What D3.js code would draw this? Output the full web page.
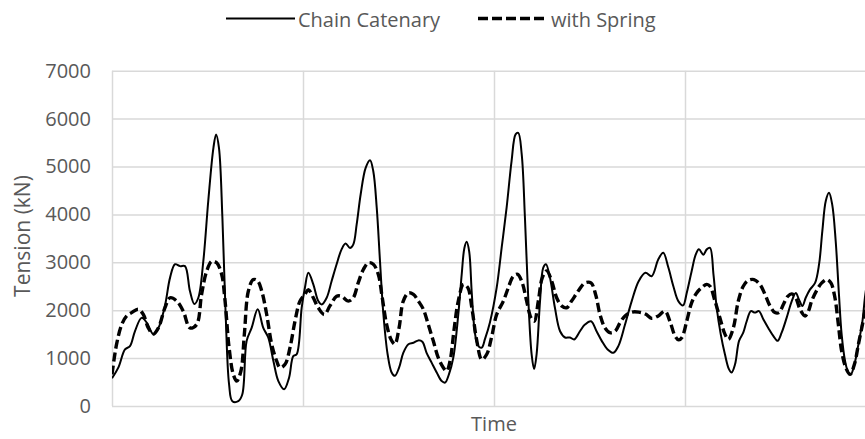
<!DOCTYPE html>
<html><head><meta charset="utf-8">
<script src="https://cdn.jsdelivr.net/npm/d3@7"></script>
<style>
html,body{margin:0;padding:0;background:#fff;}
svg{display:block;}
text{font-family:"Open Sans","Noto Sans",sans-serif;fill:#595959;}
</style></head>
<body><svg id="chart" width="865" height="439"></svg>
<script>
// ---- data ----
const seriesNames = ["Chain Catenary", "with Spring"];
const yTicks = [0, 1000, 2000, 3000, 4000, 5000, 6000, 7000];
const timeGrid = [0, 100, 200, 300, 400];

const catenaryTime = [0,3.3,6.8,9.4,12.0,15.5,18.2,21.6,24.3,27.7,30.4,33.0,35.6,38.2,40.8,43.1,45.2,47.8,50.4,53.1,54.5,56.0,57.8,59.5,61.3,63.0,66.1,68.2,70.5,73.1,76.3,79.2,81.8,84.5,87.1,90.1,92.7,94.9,96.7,99.3,101.0,
102.8,105.4,108.0,109.8,112.4,115.0,117.6,120.2,122.3,124.6,126.3,128.1,130.2,132.8,135.1,136.8,138.6,140.3,142.1,144.3,146.4,148.1,150.3,152.5,155.2,157.8,160.4,162.5,164.7,167.4,170.0,172.6,174.4,176.4,178.7,181.3,183.1,184.5,185.7,187.0,188.4,190.1,191.8,193.6,195.3,197.9,
201.4,204.0,206.6,209.2,211.3,212.7,214.5,216.2,218.0,219.7,221.0,222.3,224.1,225.8,227.2,229.3,231.9,234.6,237.2,239.8,242.0,245.0,247.6,250.8,253.7,256.4,259.5,262.5,265.1,268.6,272.1,275.8,279.3,282.5,286.0,288.6,291.3,293.9,296.5,299.0,
300.9,303.5,305.6,307.3,309.6,311.4,313.1,314.9,316.6,318.7,320.9,323.0,324.4,326.2,328.3,330.5,332.3,334.5,336.6,338.7,341.0,343.6,346.3,348.5,350.6,353.2,355.9,358.0,359.7,361.5,363.2,365.4,368.1,370.2,371.9,373.7,375.4,377.1,378.9,380.6,382.0,383.8,385.5,386.8,388.7,390.8,392.9,394.2,396.5];
const catenary = [580,800,1180,1250,1560,1840,1740,1500,1630,2090,2680,2960,2920,2920,2400,2130,2260,3020,4280,5390,5670,5390,3930,1910,450,100,100,240,1360,1630,2020,1630,1430,940,520,350,590,1040,1080,2050,2470,
2780,2540,2190,2120,2260,2610,2960,3270,3390,3300,3370,3790,4420,4970,5130,4900,4140,3030,1910,1080,700,630,800,1110,1290,1320,1370,1340,1110,900,700,520,490,660,1010,1910,2750,3300,3430,3230,2330,1500,1250,1220,1400,1750,
2470,3300,4140,5110,5670,5700,5260,3930,2190,1080,770,1080,2190,2890,2960,2680,2050,1560,1430,1430,1390,1560,1700,1770,1560,1360,1180,1110,1250,1700,2190,2610,2780,2710,3060,3200,2890,2500,2190,2100,
2360,2820,3160,3270,3160,3270,3300,2750,2050,1500,1080,770,700,870,1360,1530,1770,1980,1950,1980,1810,1630,1460,1360,1530,1840,2190,2360,2220,2090,2260,2430,2570,2960,3650,4280,4450,4200,3440,2330,1500,940,700,660,870,1290,1770,2260,2900];

const springTime = [0,2.4,5.1,7.7,10.3,13.8,16.4,19.0,21.6,24.3,27.7,30.4,33.9,37.3,40.8,44.3,46.9,49.6,52.2,54.8,57.4,59.2,61.3,63.5,65.3,67.5,69.3,71.4,74.0,76.3,78.4,81.0,83.6,86.2,88.0,90.6,93.2,95.8,98.4,101.0,
102.8,105.4,108.0,111.2,114.1,117.6,120.2,123.7,126.3,128.9,131.6,134.2,136.8,139.4,141.5,143.8,146.1,148.1,150.3,152.5,155.2,157.8,160.4,163.0,165.6,168.2,170.8,173.5,175.2,177.0,179.2,181.3,184.0,186.3,188.4,191.0,193.6,196.2,198.8,
201.4,204.9,207.5,210.1,212.4,214.8,217.1,219.4,221.1,223.2,225.3,227.6,230.2,232.8,235.4,238.0,240.6,244.1,247.6,250.8,253.2,255.5,258.1,260.7,263.4,266.0,268.6,272.1,275.8,279.3,282.5,286.0,289.5,292.1,294.8,296.7,298.4,
300.9,303.5,306.1,308.7,311.4,313.1,315.7,318.3,320.9,322.7,325.3,327.9,330.5,333.1,336.1,339.2,341.9,344.5,347.1,349.2,351.5,353.8,355.9,358.0,360.2,362.9,364.6,366.3,368.9,371.6,374.2,376.4,378.5,380.3,382.0,384.2,386.4,388.7,390.8,392.9,394.2,396.5];
const spring = [660,1290,1700,1880,1950,2020,1910,1630,1500,1630,2050,2260,2190,1980,1630,1700,2330,2820,3020,2990,2750,2190,1220,660,520,730,1500,2400,2640,2610,2400,1910,1290,940,800,870,1220,1770,2190,2330,
2430,2260,2050,1910,2090,2290,2290,2190,2260,2570,2850,2990,2960,2750,2260,1700,1390,1290,1630,2190,2360,2330,2190,2020,1700,1360,1010,800,730,940,1630,2190,2540,2470,2050,1360,970,1080,1450,
1910,2190,2470,2710,2750,2570,2190,1840,1770,2190,2680,2820,2610,2260,2090,2050,2190,2400,2570,2570,2330,1910,1630,1530,1560,1740,1880,1960,1960,1920,1830,1880,1980,1770,1460,1380,1430,
1770,2160,2360,2470,2540,2500,2190,1840,1500,1390,1630,2190,2500,2620,2640,2540,2330,2090,1950,1950,2120,2290,2340,2260,2020,1880,1980,2190,2410,2570,2640,2570,2260,1700,1150,800,660,870,1290,1700,1980,2350];

// ---- chart ----
const svg = d3.select("#chart");
const W = 865, H = 439;
const plot = {left: 112, right: 876, top: 70.7, bottom: 406};
const x = d3.scaleLinear().domain([0, 400]).range([plot.left, plot.right]);
const y = d3.scaleLinear().domain([0, 7000]).range([plot.bottom, plot.top]);

svg.append("defs").append("clipPath").attr("id", "clip")
  .append("rect").attr("x", plot.left).attr("y", 0).attr("width", plot.right - plot.left).attr("height", H);

// horizontal gridlines + y labels
const yAxis = svg.append("g").attr("transform", `translate(${plot.left},0)`)
  .call(d3.axisLeft(y).tickValues(yTicks).tickSize(-(plot.right - plot.left)).tickPadding(21).tickFormat(d3.format("d")));
yAxis.select(".domain").remove();
yAxis.selectAll(".tick line").attr("stroke", "#d9d9d9").attr("stroke-width", 1.5);
yAxis.selectAll(".tick text").attr("font-size", 20).style("fill", "#595959").attr("font-family", "'Open Sans',sans-serif");

// vertical gridlines
const xAxis = svg.append("g").attr("transform", `translate(0,${plot.bottom})`)
  .call(d3.axisBottom(x).tickValues(timeGrid).tickSize(-(plot.bottom - plot.top)).tickFormat(""));
xAxis.select(".domain").remove();
xAxis.selectAll(".tick line").attr("stroke", "#d9d9d9").attr("stroke-width", 1.5);

// lines
const makeLine = d3.line().x(d => x(d[0])).y(d => y(d[1])).curve(d3.curveCatmullRom.alpha(0.5));
const catData = catenaryTime.map((t, i) => [t, catenary[i]]);
const sprData = springTime.map((t, i) => [t, spring[i]]);
const g = svg.append("g").attr("clip-path", "url(#clip)");
g.append("path").datum(catData).attr("d", makeLine).attr("fill", "none")
  .attr("stroke", "#000").attr("stroke-width", 2);
g.append("path").datum(sprData).attr("d", makeLine).attr("fill", "none")
  .attr("stroke", "#000").attr("stroke-width", 3.4).attr("stroke-dasharray", "9,4");

// axis titles
svg.append("text").attr("x", 494).attr("y", 431).attr("text-anchor", "middle")
  .attr("font-size", 20).text("Time");
svg.append("text").attr("transform", "translate(30,236) rotate(-90)").attr("text-anchor", "middle")
  .attr("font-size", 21).text("Tension (kN)");

// legend
const legend = svg.append("g");
legend.append("line").attr("x1", 226).attr("x2", 295).attr("y1", 18.5).attr("y2", 18.5)
  .attr("stroke", "#000").attr("stroke-width", 2);
legend.append("text").attr("x", 298).attr("y", 26.5).attr("font-size", 20).text(seriesNames[0]);
legend.append("line").attr("x1", 478).attr("x2", 548).attr("y1", 18.5).attr("y2", 18.5)
  .attr("stroke", "#000").attr("stroke-width", 3.4).attr("stroke-dasharray", "10,4");
legend.append("text").attr("x", 551).attr("y", 26.5).attr("font-size", 20).text(seriesNames[1]);
</script></body></html>
